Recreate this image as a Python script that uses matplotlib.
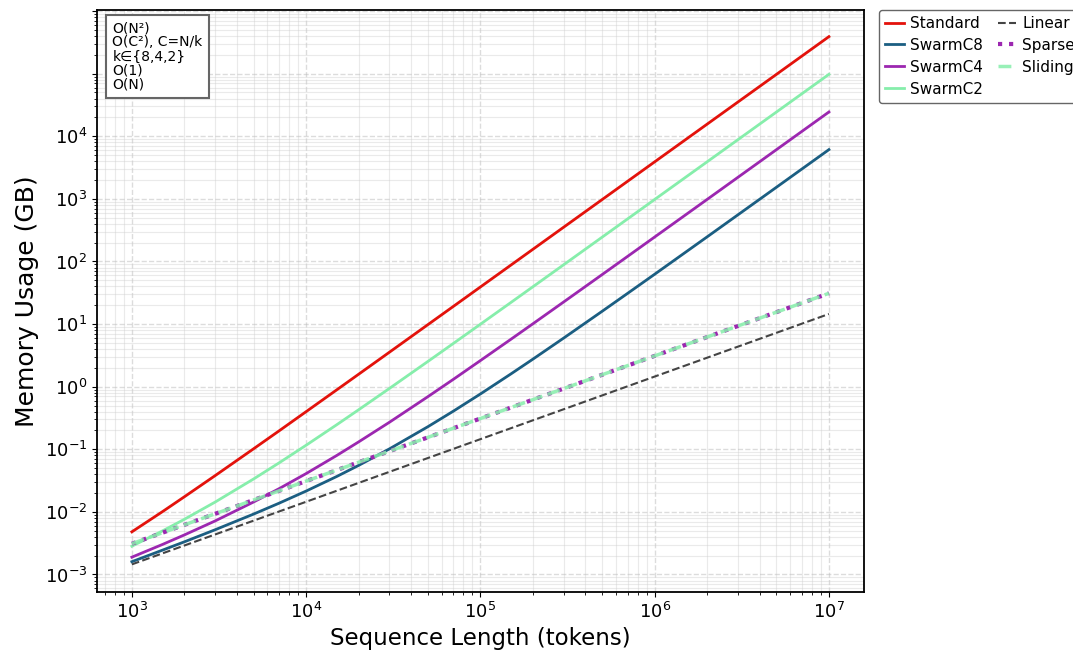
import matplotlib
matplotlib.use("Agg")
import matplotlib.pyplot as plt
import numpy as np
from matplotlib.ticker import LogLocator, NullFormatter

seq_len = [1e3, 1.5e3, 2e3, 3e3, 5e3, 7e3, 1e4, 1.5e4, 2e4, 3e4, 5e4, 7e4,
           1e5, 1.5e5, 2e5, 3e5, 5e5, 7e5, 1e6, 2e6, 5e6, 1e7]

standard = [4.80e-3, 1.01e-2, 1.74e-2, 3.78e-2, 0.102, 0.197, 0.399, 0.891, 1.578, 3.537, 9.80, 19.17,
            39.1, 87.9, 156.2, 351.3, 975.5, 1912, 3901, 15602, 97505, 390009]
swarm_c8 = [1.60e-3, 2.45e-3, 3.32e-3, 5.17e-3, 9.23e-3, 1.377e-2, 2.15e-2, 3.68e-2, 5.52e-2, 0.1011, 0.2295, 0.4067,
            0.764, 1.604, 2.748, 5.952, 16.02, 30.97, 62.5, 247, 1533, 6115]
swarm_c4 = [1.89e-3, 3.02e-3, 4.28e-3, 7.15e-3, 1.44e-2, 2.35e-2, 4.09e-2, 7.97e-2, 0.131, 0.269, 0.693, 1.311,
            2.61, 5.74, 10.09, 22.46, 61.8, 120.7, 245.7, 979, 6108, 24417]
swarm_c2 = [2.83e-3, 4.97e-3, 7.6e-3, 1.43e-2, 3.36e-2, 6.07e-2, 0.116, 0.247, 0.427, 0.933, 2.53, 4.907,
            9.94, 22.21, 39.37, 88.3, 244.7, 479.0, 976.9, 3904, 24384, 97519]
linear = [1.45e-3, 2.175e-3, 2.9e-3, 4.35e-3, 7.25e-3, 1.015e-2, 1.45e-2, 2.175e-2, 2.9e-2, 4.35e-2, 7.25e-2, 0.1015,
          0.145, 0.2175, 0.29, 0.435, 0.725, 1.015, 1.45, 2.9, 7.25, 14.5]
sparse = [3.1e-3, 4.65e-3, 6.2e-3, 9.3e-3, 1.55e-2, 2.17e-2, 3.1e-2, 4.65e-2, 6.2e-2, 9.3e-2, 0.155, 0.217,
          0.31, 0.465, 0.62, 0.93, 1.55, 2.17, 3.1, 6.2, 15.5, 31.0]
sliding = [3.1e-3, 4.65e-3, 6.2e-3, 9.3e-3, 1.55e-2, 2.17e-2, 3.1e-2, 4.65e-2, 6.2e-2, 9.3e-2, 0.155, 0.217,
           0.31, 0.465, 0.62, 0.93, 1.55, 2.17, 3.1, 6.2, 15.5, 31.0]

y_ticks = [1e-3, 1e-2, 1e-1, 1e0, 1e1, 1e2, 1e3, 1e4, 1e5, 1e6]
y_ticklabels = ["$10^{-3}$", "$10^{-2}$", "$10^{-1}$", "$10^{0}$", "$10^{1}$", "$10^{2}$",
                "$10^{3}$", "$10^{4}$", "", ""]

annotation = "O(N²)\nO(C²), C=N/k\nk∈{8,4,2}\nO(1)\nO(N)"

fig = plt.figure(figsize=(10.73, 6.53), dpi=100)
ax = fig.add_axes([0.0904, 0.0934, 0.7146, 0.8916])

ax.plot(seq_len, standard, color="#e3120b", lw=2, label="Standard")
ax.plot(seq_len, swarm_c8, color="#1b5e82", lw=2, label="SwarmC8")
ax.plot(seq_len, swarm_c4, color="#9c27b0", lw=2, label="SwarmC4")
ax.plot(seq_len, swarm_c2, color="#86eeab", lw=2, label="SwarmC2")
ax.plot(seq_len, linear, color="#444444", lw=1.5, ls="--", label="Linear")
ax.plot(seq_len, sparse, color="#9c27b0", lw=3, ls=":", label="Sparse")
ax.plot(seq_len, sliding, color="#86eeab", lw=2.5, ls="--", label="Sliding", alpha=0.85)

ax.set_xscale("log")
ax.set_yscale("log")
ax.set_xlim(10 ** 2.8, 10 ** 7.2)
ax.set_yticks(y_ticks)
ax.set_yticklabels(y_ticklabels)
ax.yaxis.set_minor_locator(LogLocator(base=10, subs=np.arange(2, 10), numticks=100))
ax.yaxis.set_minor_formatter(NullFormatter())
ax.xaxis.set_minor_locator(LogLocator(base=10, subs=np.arange(2, 10), numticks=100))
ax.xaxis.set_minor_formatter(NullFormatter())
ax.set_ylim(10 ** -3.28, 10 ** 6.02)
ax.set_xlabel("Sequence Length (tokens)", fontsize=16.5)
ax.set_ylabel("Memory Usage (GB)", fontsize=18)
ax.tick_params(axis="both", which="major", labelsize=13)

ax.grid(True, which="major", ls="--", color="#bbbbbb", alpha=0.5, lw=1)
ax.grid(True, which="minor", ls="-", color="#cccccc", alpha=0.4, lw=0.8)

for sp in ax.spines.values():
    sp.set_linewidth(1.3)

ax.text(0.02, 0.98, annotation, transform=ax.transAxes, fontsize=10,
        va="top", ha="left", linespacing=1.0,
        bbox=dict(boxstyle="square,pad=0.45", facecolor="white", edgecolor="#666666", lw=1.5))

ax.legend(loc="upper left", bbox_to_anchor=(1.02, 1.0), ncol=2, fontsize=11,
          columnspacing=1.0, handlelength=1.2, handletextpad=0.4, labelspacing=0.45,
          borderaxespad=0.0, edgecolor="#666666", framealpha=1)

fig.savefig("out.png", dpi=100)
